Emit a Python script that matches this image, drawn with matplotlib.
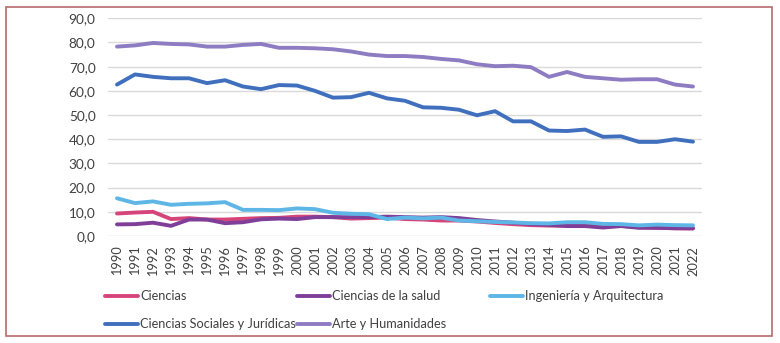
# plot.py
# Share of students by field of study, 1990-2022 (line chart, Excel style)

import matplotlib
matplotlib.use("Agg")
import matplotlib.pyplot as plt
from matplotlib.patches import Rectangle
from matplotlib.ticker import FuncFormatter

# ── Data ────────────────────────────────────────────────
years = [str(y) for y in range(1990, 2023)]

ciencias = [9.3, 9.7, 10.0, 7.0, 7.4, 6.8, 6.8, 7.1, 7.4, 7.5, 8.0, 8.0, 7.8,
            7.2, 7.4, 7.6, 7.0, 6.8, 6.4, 6.4, 6.0, 5.4, 4.9, 4.5, 4.3, 4.3,
            4.3, 4.0, 4.2, 3.6, 3.4, 3.2, 3.1]
salud = [4.8, 4.9, 5.5, 4.2, 6.8, 6.8, 5.3, 5.7, 6.9, 7.2, 7.0, 7.8, 7.8,
         7.8, 7.8, 8.0, 7.8, 7.6, 7.8, 7.4, 6.6, 6.0, 5.5, 4.9, 4.6, 4.1,
         4.1, 3.5, 4.1, 3.4, 3.4, 3.2, 3.2]
ingenieria = [15.6, 13.6, 14.3, 12.9, 13.3, 13.5, 14.0, 10.8, 10.8, 10.7,
              11.4, 11.1, 9.6, 9.2, 9.0, 7.0, 7.6, 7.3, 7.6, 6.4, 6.1, 5.8,
              5.6, 5.3, 5.2, 5.7, 5.7, 5.0, 4.9, 4.4, 4.7, 4.5, 4.4]
sociales = [62.6, 66.8, 65.8, 65.2, 65.2, 63.2, 64.4, 61.8, 60.7, 62.4, 62.2,
            60.0, 57.2, 57.4, 59.2, 56.9, 55.9, 53.2, 53.0, 52.2, 49.9, 51.6,
            47.4, 47.4, 43.6, 43.4, 44.0, 41.0, 41.2, 38.9, 38.9, 40.0, 39.0]
arte = [78.3, 78.8, 79.8, 79.4, 79.2, 78.3, 78.3, 79.0, 79.4, 77.8, 77.8,
        77.6, 77.2, 76.3, 75.0, 74.4, 74.4, 74.0, 73.2, 72.6, 71.0, 70.2,
        70.4, 69.8, 65.8, 67.8, 65.8, 65.2, 64.6, 64.8, 64.8, 62.6, 61.8]

labels = ["Ciencias", "Ciencias de la salud", "Ingeniería y Arquitectura",
          "Ciencias Sociales y Jurídicas", "Arte y Humanidades"]
colors = ["#D6457A", "#7F3F98", "#5DB6E6", "#4070BD", "#8E7CC3"]

# ── Style ───────────────────────────────────────────────
plt.rcParams['font.family'] = ['Lato', 'DejaVu Sans']
TEXT = "#404040"
FS = 9.2

fig = plt.figure(figsize=(7.8, 3.43), dpi=100)
ax = fig.add_axes([108 / 780, 1 - 236 / 343, 594 / 780, (236 - 18.3) / 343])

x = range(len(years))
lines = []
for vals, lab, col in zip([ciencias, salud, ingenieria, sociales, arte],
                          labels, colors):
    ln, = ax.plot(x, vals, color=col, lw=2.8, label=lab,
                  solid_capstyle='round', solid_joinstyle='round')
    lines.append(ln)

ax.set_xlim(-0.5, len(years) - 0.5)
ax.set_ylim(0, 90)
ax.set_yticks(range(0, 91, 10))
ax.yaxis.set_major_formatter(FuncFormatter(lambda v, p: f"{v:.1f}".replace(".", ",")))
ax.set_xticks(list(x))
ax.set_xticklabels(years, rotation=90)
ax.tick_params(axis='both', length=0, labelsize=FS, labelcolor=TEXT)
ax.tick_params(axis='y', labelsize=9.8, pad=9)
ax.tick_params(axis='x', pad=7)

ax.grid(axis='y', color="#d9d9d9", lw=1)
ax.set_axisbelow(True)
for s in ax.spines.values():
    s.set_visible(False)

# ── Legend: three fixed columns, like Excel ─────────────
cols = [([lines[0], lines[3]], 105), ([lines[1], lines[4]], 297), ([lines[2]], 490)]
for hs, xpix in cols:
    fig.legend(handles=hs, labels=[h.get_label() for h in hs],
               loc='upper left', bbox_to_anchor=(xpix / 780, 1 - 290 / 343),
               frameon=False, fontsize=FS, labelcolor=TEXT,
               handlelength=2.6, handletextpad=0.15, labelspacing=1.25,
               borderaxespad=0, borderpad=0)

# ── Frame around the chart ──────────────────────────────
fig.patches.append(Rectangle((6 / 780, 1 - 336 / 343), 766 / 780, 329 / 343,
                             transform=fig.transFigure, fill=False,
                             edgecolor="#b86a6e", lw=1.2))

fig.savefig("out.png", dpi=100)
